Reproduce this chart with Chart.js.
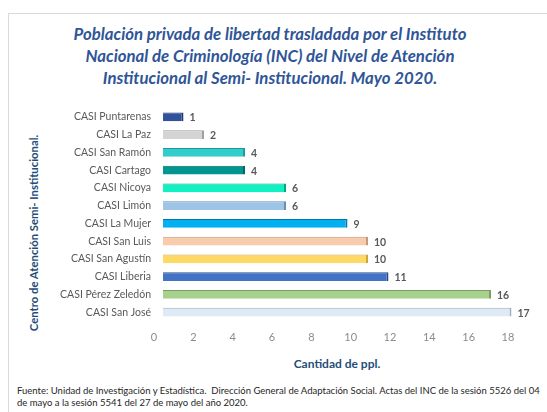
<!DOCTYPE html>
<html>
<head>
<meta charset="utf-8">
<script src="https://cdn.jsdelivr.net/npm/chart.js@4"></script>
<style>
  body { margin: 0; width: 547px; height: 412px; background: #fff; overflow: hidden; position: relative; font-family: Lato, "Open Sans", sans-serif; }
  #marco { position: absolute; left: 8px; top: 13px; width: 560px; height: 420px; border-left: 1px solid #d9d9d9; border-top: 1px solid #d9d9d9; }
  #titulo { position: absolute; left: 10px; width: 520px; top: 23px; text-align: center; font-weight: bold; font-style: italic; font-size: 16.8px; line-height: 22px; color: #2F5597; }
  #ejeY { position: absolute; left: 33px; top: 233px; transform: translate(-50%, -50%) rotate(-90deg); white-space: nowrap; font-weight: bold; font-size: 11.3px; color: #1F4E79; }
  #ejeX { position: absolute; left: 337px; top: 363px; transform: translate(-50%, -50%); white-space: nowrap; font-weight: bold; font-size: 12px; color: #1F4E79; }
  #fuente { position: absolute; left: 17px; top: 385px; font-size: 9.5px; line-height: 12px; color: #262626; white-space: nowrap; }
  canvas { position: absolute; left: 0; top: 0; }
</style>
</head>
<body>
<div id="marco"></div>
<div id="titulo">Población privada de libertad trasladada por el Instituto<br>Nacional de Criminología (INC) del Nivel de Atención<br>Institucional al Semi- Institucional. Mayo 2020.</div>
<div id="ejeY">Centro de Atención Semi- Institucional.</div>
<div id="ejeX">Cantidad de ppl.</div>
<div id="fuente">Fuente: Unidad de Investigación y Estadística.&nbsp; Dirección General de Adaptación Social. Actas del INC de la sesión 5526 del 04<br>de mayo a la sesión 5541 del 27 de mayo del año 2020.</div>
<canvas id="grafico" width="547" height="412"></canvas>
<script>
// Datos del gráfico
const centros = ['CASI Puntarenas', 'CASI La Paz', 'CASI San Ramón', 'CASI Cartago', 'CASI Nicoya', 'CASI Limón',
    'CASI La Mujer', 'CASI San Luis', 'CASI San Agustín', 'CASI Liberia', 'CASI Pérez Zeledón', 'CASI San José'];
const cantidades = [1, 2, 4, 4, 6, 6, 9, 10, 10, 11, 16, 17];
const ticksX = [0, 2, 4, 6, 8, 10, 12, 14, 16, 18];

const colores = ['#2F529A', '#D4D4D4', '#33CCCC', '#00968F', '#10F0C0', '#9DC3E6',
    '#00B0F0', '#F8CBAD', '#FFD966', '#4472C4', '#A9D18E', '#DEEBF7'];
const bordes = ['#1F3A70', '#A0A0A0', '#1E9A9A', '#006B66', '#00A885', '#6C8EB0',
    '#0079A8', '#C4987A', '#C9A73C', '#2A4C8A', '#7A9E63', '#A6AEB8'];

// Etiquetas de valor al final de cada barra
const etiquetas = {
    id: 'etiquetas',
    afterDatasetsDraw(chart) {
        const ctx = chart.ctx;
        ctx.save();
        ctx.font = 'bold 10.5px Lato, sans-serif';
        ctx.fillStyle = '#595959';
        ctx.textBaseline = 'middle';
        chart.getDatasetMeta(0).data.forEach((bar, i) => {
            ctx.fillText(cantidades[i], bar.x + 6, bar.y + 1);
        });
        ctx.restore();
    }
};

new Chart(document.getElementById('grafico'), {
    type: 'bar',
    data: {
        labels: centros,
        datasets: [{
            data: cantidades,
            xAxisID: 'x',
            backgroundColor: colores,
            borderColor: bordes,
            borderWidth: { top: 1, right: 2, bottom: 0, left: 0 },
            borderSkipped: false,
            barPercentage: 0.48,
            categoryPercentage: 1,
            clip: false
        }]
    },
    options: {
        indexAxis: 'y',
        responsive: false,
        animation: false,
        events: [],
        layout: { padding: { left: 40, right: 39, top: 108, bottom: 61 } },
        plugins: { legend: { display: false }, tooltip: { enabled: false } },
        scales: {
            // eje de las barras (oculto)
            x: {
                display: false,
                min: -0.44,
                max: 16.83
            },
            // eje con las marcas visibles
            xt: {
                type: 'linear',
                position: 'bottom',
                min: 0,
                max: 18,
                afterBuildTicks: scale => { scale.ticks = ticksX.map(v => ({ value: v })); },
                afterFit: scale => { scale.height = 30; },
                grid: { display: false, drawTicks: false },
                border: { display: false },
                ticks: { padding: 10, color: '#8C8C8C', font: { family: 'Lato', size: 11 }, maxRotation: 0 }
            },
            y: {
                afterFit: scale => { scale.width = 114; },
                grid: { display: false, drawTicks: false },
                border: { display: false },
                ticks: { padding: 3, color: '#595959', font: { family: 'Lato', size: 10.5 } }
            }
        }
    },
    plugins: [etiquetas]
});
</script>
</body>
</html>
